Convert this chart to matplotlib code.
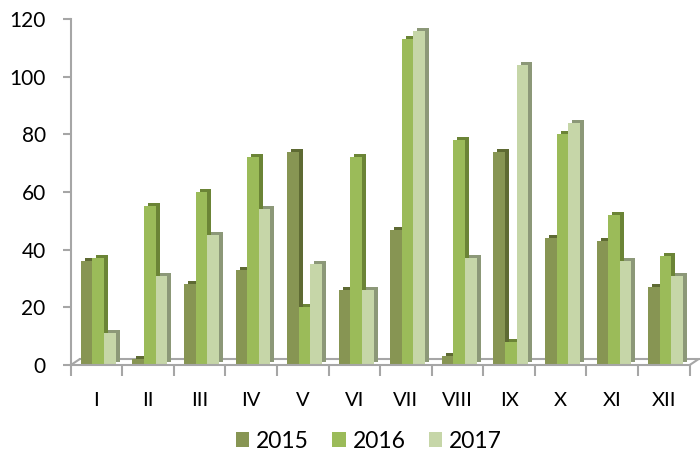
import matplotlib.pyplot as plt
import matplotlib.transforms as mtransforms
import numpy as np

# data
months = ['I', 'II', 'III', 'IV', 'V', 'VI', 'VII', 'VIII', 'IX', 'X', 'XI', 'XII']
y2015 = [36, 2, 28, 33, 74, 26, 47, 3, 74, 44, 43, 27]
y2016 = [37, 55, 60, 72, 20, 72, 113, 78, 8, 80, 52, 38]
y2017 = [11, 31, 45, 54, 35, 26, 116, 37, 104, 84, 36, 31]

series = [('2015', y2015, '#879553', '#5E6A33'),
          ('2016', y2016, '#9BBB59', '#6B8436'),
          ('2017', y2017, '#C6D6A8', '#8C9878')]

plt.rcParams['font.family'] = ['Lato', 'DejaVu Sans']

fig = plt.figure(figsize=(7, 4.53), dpi=100)
ax = fig.add_axes([0.101, 0.194, 0.884, 0.764])

x = np.arange(len(months))
width = 0.225
offsets = [-0.19, 0.035, 0.26]

# side/top faces: darker copy shifted a few pixels right and up
shade = mtransforms.offset_copy(ax.transData, fig=fig, x=4, y=3, units='dots')

for (name, vals, front, side), off in zip(series, offsets):
    ax.bar(x + off, vals, width, color=side, transform=shade, zorder=1)
for (name, vals, front, side), off in zip(series, offsets):
    ax.bar(x + off, vals, width, color=front, zorder=2, label=name)

ax.set_xlim(-0.5, 11.5)
ax.set_ylim(0, 120)
ax.set_yticks(range(0, 121, 20))

# floor of the 3d box
floor = mtransforms.offset_copy(ax.transAxes, fig=fig, x=9, y=6, units='dots')
ax.plot([0, 1], [0, 0], color='#A6A6A6', lw=1.5, transform=floor, clip_on=False, zorder=0)
for xa in [0, 1]:
    ax.annotate('', xy=(xa, 0), xycoords='axes fraction',
                xytext=(9, 6), textcoords='offset pixels',
                arrowprops=dict(arrowstyle='-', color='#A6A6A6', lw=1.5,
                                shrinkA=0, shrinkB=0))

ax.set_xticks(np.arange(-0.5, 12, 1))
ax.set_xticklabels([])
ax.set_xticks(x, minor=True)
ax.set_xticklabels(months, minor=True)
ax.tick_params(axis='x', which='major', length=8, width=1.5, color='#A6A6A6', direction='out')
ax.tick_params(axis='x', which='minor', length=0, pad=19, labelsize=14.5)
ax.tick_params(axis='y', length=6, width=1.5, color='#A6A6A6', labelsize=15, pad=12)

for s in ['top', 'right']:
    ax.spines[s].set_visible(False)
for s in ['left', 'bottom']:
    ax.spines[s].set_color('#A6A6A6')
    ax.spines[s].set_linewidth(1.5)

fig.legend(loc='center', bbox_to_anchor=(0.527, 0.026), ncol=3, frameon=False,
           fontsize=16.5, handlelength=0.6, handleheight=0.6, handletextpad=0.3,
           columnspacing=1.0)

fig.savefig('out.png', dpi=100)
